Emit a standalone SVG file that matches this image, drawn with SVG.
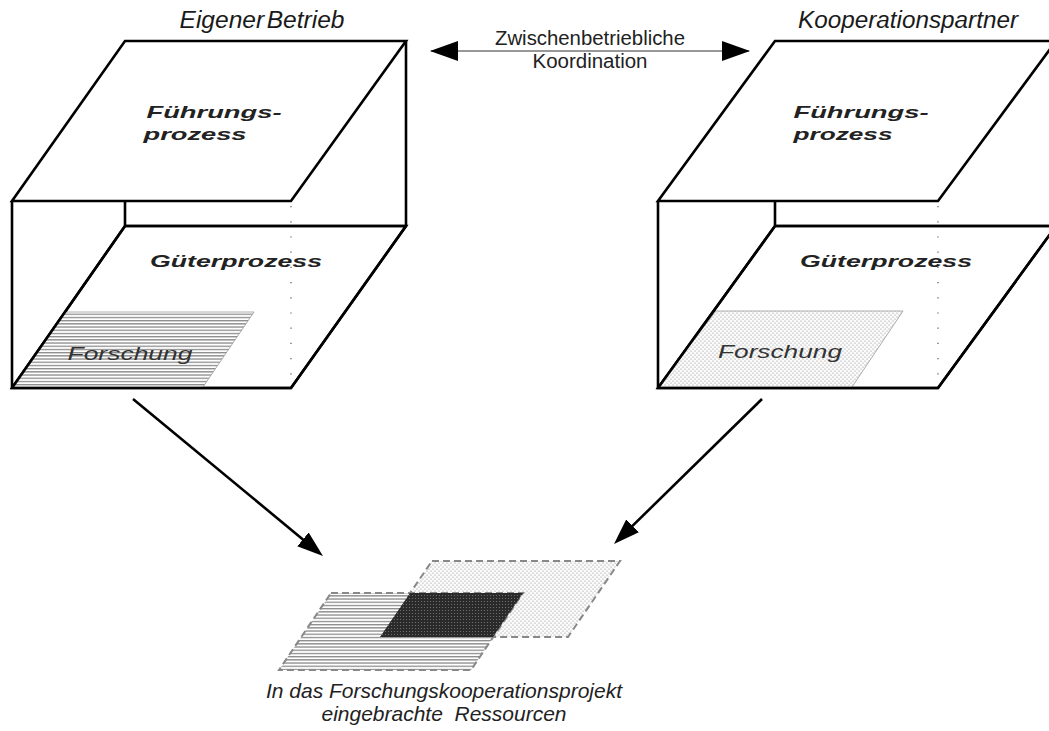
<svg xmlns="http://www.w3.org/2000/svg" width="1049" height="731" viewBox="0 0 1049 731">
  <style>
    .edge { fill: none; stroke: #000; stroke-width: 2.6; stroke-linejoin: miter; }
    .face { fill: #fff; stroke: #000; stroke-width: 2.6; }
    .dots { fill: none; stroke: #555; stroke-width: 1.2; stroke-dasharray: 1.2 14; }
    .head { font-family: "Liberation Sans", Arial, sans-serif; font-style: italic; font-size: 23px; fill: #1a1a1a; }
    .plane { font-family: "Liberation Sans", Arial, sans-serif; font-style: italic; font-weight: bold; font-size: 17px; fill: #222; }
    .area { font-family: "Liberation Sans", Arial, sans-serif; font-style: italic; font-size: 18px; fill: #333; }
    .label { font-family: "Liberation Sans", Arial, sans-serif; font-size: 20px; fill: #222; }
    .caption { font-family: "Liberation Sans", Arial, sans-serif; font-style: italic; font-size: 21px; fill: #222; }
    .conn { fill: none; stroke: #000; stroke-width: 2.6; }
    .thin { fill: none; stroke: #333; stroke-width: 1.2; }
    .dash { stroke: #888; stroke-width: 2; stroke-dasharray: 7 4; }
  </style>
  <defs>
    <pattern id="stripes" width="8" height="3.2" patternUnits="userSpaceOnUse">
      <rect width="8" height="3.2" fill="#fff"/>
      <rect y="0" width="8" height="1.3" fill="#8a8a8a"/>
    </pattern>
    <pattern id="stipple" width="4" height="4" patternUnits="userSpaceOnUse">
      <rect width="4" height="4" fill="#fbfbfb"/>
      <circle cx="1" cy="1" r="0.55" fill="#8a8a8a"/>
      <circle cx="3" cy="3" r="0.55" fill="#8a8a8a"/>
    </pattern>
    <pattern id="dense" width="3" height="3" patternUnits="userSpaceOnUse">
      <rect width="3" height="3" fill="#2a2a2a"/>
      <circle cx="1.5" cy="1.5" r="0.6" fill="#777"/>
    </pattern>
    <marker id="tipThin" viewBox="0 0 28 20" refX="27" refY="10" markerWidth="28" markerHeight="20" markerUnits="userSpaceOnUse" orient="auto-start-reverse">
      <path d="M0,0 L28,10 L0,20 z" fill="#000"/>
    </marker>
    <marker id="tipBold" viewBox="0 0 26 18" refX="18" refY="9" markerWidth="26" markerHeight="18" markerUnits="userSpaceOnUse" orient="auto">
      <path d="M0,0 L26,9 L0,18 z" fill="#000"/>
    </marker>
  </defs>

  <rect width="1049" height="731" fill="#fff"/>

  <!-- own company: two stacked process planes -->
  <g id="eigener-betrieb">
    <text class="head" x="262" y="28" text-anchor="middle" word-spacing="-4" textLength="165" lengthAdjust="spacingAndGlyphs">Eigener Betrieb</text>
    <polygon class="face" points="125,226 406,226 291,388 12,388"/>
    <polygon points="65,312 254,312 203,387 12,387" fill="url(#stripes)" stroke="#999" stroke-width="0.8"/>
    <text class="area" x="130" y="360" text-anchor="middle" textLength="125" lengthAdjust="spacingAndGlyphs">Forschung</text>
    <path class="edge" d="M12,201 V388 H291 L406,226 V41"/>
    <path class="edge" d="M125,201 V226 H406 M125,226 L12,388"/>
    <line class="dots" x1="291" y1="206" x2="291" y2="385"/>
    <polygon class="face" points="125,41 406,41 291,201 12,201"/>
    <text class="plane" x="214" y="118" text-anchor="middle" textLength="135" lengthAdjust="spacingAndGlyphs">Führungs-</text>
    <text class="plane" x="195" y="140" text-anchor="middle" textLength="103" lengthAdjust="spacingAndGlyphs">prozess</text>
    <text class="plane" x="236" y="267" text-anchor="middle" textLength="172" lengthAdjust="spacingAndGlyphs">Güterprozess</text>
  </g>

  <!-- cooperation partner: same structure -->
  <g id="kooperationspartner">
    <text class="head" x="908" y="28" text-anchor="middle" textLength="220" lengthAdjust="spacingAndGlyphs">Kooperationspartner</text>
    <polygon class="face" points="775,226 1056,226 938,388 658,388"/>
    <polygon points="716,311 903,311 852,387 658,387" fill="url(#stipple)" stroke="#999" stroke-width="0.8"/>
    <text class="area" x="780" y="358" text-anchor="middle" textLength="124" lengthAdjust="spacingAndGlyphs">Forschung</text>
    <path class="edge" d="M658,201 V388 H938 L1056,226"/>
    <path class="edge" d="M775,201 V226 H1056 M775,226 L658,388"/>
    <line class="dots" x1="938" y1="206" x2="938" y2="385"/>
    <polygon class="face" points="775,41 1056,41 938,201 658,201"/>
    <text class="plane" x="861" y="118" text-anchor="middle" textLength="135" lengthAdjust="spacingAndGlyphs">Führungs-</text>
    <text class="plane" x="843" y="140" text-anchor="middle" textLength="99" lengthAdjust="spacingAndGlyphs">prozess</text>
    <text class="plane" x="886" y="267" text-anchor="middle" textLength="172" lengthAdjust="spacingAndGlyphs">Güterprozess</text>
  </g>

  <!-- pooled research resources -->
  <g id="ressourcen">
    <polygon class="dash" points="432,561 620,561 568,637 380,637" fill="url(#stipple)"/>
    <polygon class="dash" points="331,593 523,593 471,670 279,670" fill="url(#stripes)"/>
    <polygon points="410,593 523,593 493,637 380,637" fill="url(#dense)"/>
    <text class="caption" x="444" y="698" text-anchor="middle" textLength="356" lengthAdjust="spacingAndGlyphs">In das Forschungskooperationsprojekt</text>
    <text class="caption" x="444" y="721" text-anchor="middle" textLength="245" lengthAdjust="spacingAndGlyphs" xml:space="preserve">eingebrachte  Ressourcen</text>
  </g>

  <!-- coordination label -->
  <g id="koordination">
    <text class="label" x="590" y="45" text-anchor="middle" textLength="190" lengthAdjust="spacingAndGlyphs">Zwischenbetriebliche</text>
    <text class="label" x="590" y="68" text-anchor="middle" textLength="115" lengthAdjust="spacingAndGlyphs">Koordination</text>
  </g>

  <!-- connectors -->
  <g id="connectors">
    <path class="thin" d="M431,51 H749" marker-start="url(#tipThin)" marker-end="url(#tipThin)"/>
    <path class="conn" d="M133,399 L316.8,550.9" marker-end="url(#tipBold)"/>
    <path class="conn" d="M762,399 L619.7,538.4" marker-end="url(#tipBold)"/>
  </g>
</svg>
